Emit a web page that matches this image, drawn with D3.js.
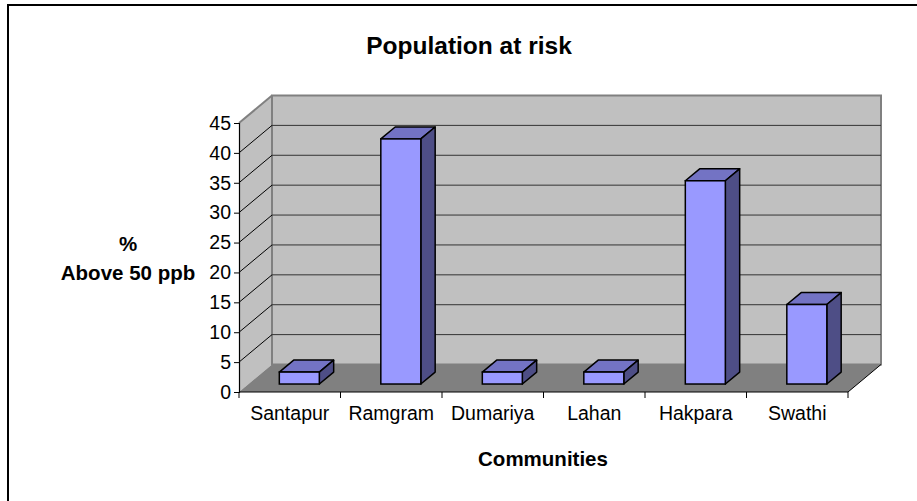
<!DOCTYPE html>
<html>
<head>
<meta charset="utf-8">
<script src="https://cdn.jsdelivr.net/npm/d3@7"></script>
<style>
  html, body { margin: 0; padding: 0; background: #fff; }
  svg { display: block; font-family: "Liberation Sans", Arial, sans-serif; }
</style>
</head>
<body>
<svg id="chart" width="917" height="501"></svg>
<script>
// Share of each community above 50 ppb
const communities = ["Santapur", "Ramgram", "Dumariya", "Lahan", "Hakpara", "Swathi"];
const percentAbove = [2, 41, 2, 2, 34, 13.3];
const yTicks = [0, 5, 10, 15, 20, 25, 30, 35, 40, 45];

const svg = d3.select("#chart");

// Outer frame
svg.append("path")
  .attr("d", "M8,501 V5 H917")
  .attr("fill", "none").attr("stroke", "#000").attr("stroke-width", 2);

// Front plane scales
const x = d3.scaleBand().domain(communities).range([239, 848]);
const y = d3.scaleLinear().domain([0, 45]).range([392, 123]);

// Oblique depth offset of the back wall
const DX = 33, DY = 27.5;
const barFront = 0.29, barDepth = 0.435, barW = 40;

const x0 = x.range()[0], x1 = x.range()[1];
const yTop = y(45), yBase = y(0);

// Left wall
svg.append("polygon")
  .attr("points", [[x0, yBase], [x0, yTop], [x0 + DX, yTop - DY], [x0 + DX, yBase - DY]].join(" "))
  .attr("fill", "#C0C0C0");

// Back wall
svg.append("rect")
  .attr("x", x0 + DX).attr("y", yTop - DY)
  .attr("width", x1 - x0).attr("height", yBase - yTop)
  .attr("fill", "#C0C0C0").attr("stroke", "#808080").attr("stroke-width", 2);

// Gridlines: across back wall and slanting over left wall
const inner = yTicks.filter(v => v > 0 && v < 45);
svg.append("g").selectAll("line").data(inner).join("line")
  .attr("x1", x0 + DX).attr("x2", x1 + DX)
  .attr("y1", d => y(d) - DY).attr("y2", d => y(d) - DY)
  .attr("stroke", "#333").attr("stroke-width", 1);
svg.append("g").selectAll("line").data(yTicks.filter(v => v > 0 && v < 45)).join("line")
  .attr("x1", x0).attr("x2", x0 + DX)
  .attr("y1", d => y(d)).attr("y2", d => y(d) - DY)
  .attr("stroke", "#000").attr("stroke-width", 1);
// Top edge of the left wall
svg.append("line")
  .attr("x1", x0).attr("y1", yTop).attr("x2", x0 + DX).attr("y2", yTop - DY)
  .attr("stroke", "#808080").attr("stroke-width", 2);

// Floor
svg.append("polygon")
  .attr("points", [[x0, yBase], [x1, yBase], [x1 + DX, yBase - DY], [x0 + DX, yBase - DY]].join(" "))
  .attr("fill", "#808080");
svg.append("line")
  .attr("x1", x1).attr("y1", yBase).attr("x2", x1 + DX).attr("y2", yBase - DY)
  .attr("stroke", "#000").attr("stroke-width", 1);

// Bars (front, top and side faces)
const data = communities.map((c, i) => ({ c, v: percentAbove[i] }));
const bars = svg.append("g").selectAll("g").data(data).join("g");
const fx = d => x(d.c) + x.bandwidth() / 2 - barW / 2 + barFront * DX;
const fyT = d => y(d.v) - barFront * DY;
const fyB = () => y(0) - barFront * DY;
const ddx = barDepth * DX, ddy = barDepth * DY;

bars.append("polygon")
  .attr("points", d => [[fx(d), fyT(d)], [fx(d) + barW, fyT(d)], [fx(d) + barW + ddx, fyT(d) - ddy], [fx(d) + ddx, fyT(d) - ddy]].join(" "))
  .attr("fill", "#7373C4").attr("stroke", "#000").attr("stroke-width", 1.5).attr("stroke-linejoin", "round");
bars.append("polygon")
  .attr("points", d => [[fx(d) + barW, fyT(d)], [fx(d) + barW + ddx, fyT(d) - ddy], [fx(d) + barW + ddx, fyB() - ddy], [fx(d) + barW, fyB()]].join(" "))
  .attr("fill", "#4E4E86").attr("stroke", "#000").attr("stroke-width", 1.5).attr("stroke-linejoin", "round");
bars.append("rect")
  .attr("x", fx).attr("y", fyT)
  .attr("width", barW).attr("height", d => fyB() - fyT(d))
  .attr("fill", "#9999FF").attr("stroke", "#000").attr("stroke-width", 1.5);

// Value axis
const yAxis = svg.append("g")
  .attr("transform", `translate(${x0},0)`)
  .call(d3.axisLeft(y).tickValues(yTicks).tickSize(5).tickPadding(3));
yAxis.select(".domain").attr("stroke", "#000").attr("stroke-width", 1.2);
yAxis.selectAll(".tick line").attr("stroke", "#000");
yAxis.selectAll(".tick text").attr("font-size", "19.5px").attr("fill", "#000")
  .attr("font-family", "Liberation Sans, Arial, sans-serif");

// Category axis: ticks between categories
const boundaries = communities.map(c => x(c)).concat([x1]);
svg.append("line")
  .attr("x1", x0).attr("x2", x1).attr("y1", yBase).attr("y2", yBase)
  .attr("stroke", "#000").attr("stroke-width", 1.2);
svg.append("g").selectAll("line").data(boundaries).join("line")
  .attr("x1", d => d).attr("x2", d => d)
  .attr("y1", yBase).attr("y2", yBase + 6)
  .attr("stroke", "#000");
svg.append("g").selectAll("text").data(communities).join("text")
  .attr("x", d => x(d) + x.bandwidth() / 2)
  .attr("y", 420)
  .attr("text-anchor", "middle")
  .attr("font-size", "19.5px")
  .text(d => d);

// Titles
svg.append("text")
  .attr("x", 469).attr("y", 54)
  .attr("text-anchor", "middle")
  .attr("font-size", "24.5px").attr("font-weight", "bold")
  .text("Population at risk");
svg.append("text")
  .attr("x", 543).attr("y", 466)
  .attr("text-anchor", "middle")
  .attr("font-size", "20.5px").attr("font-weight", "bold")
  .text("Communities");
const yTitle = svg.append("text")
  .attr("text-anchor", "middle")
  .attr("font-size", "20.5px").attr("font-weight", "bold");
yTitle.append("tspan").attr("x", 128).attr("y", 251).text("%");
yTitle.append("tspan").attr("x", 128).attr("y", 280).text("Above 50 ppb");
</script>
</body>
</html>
